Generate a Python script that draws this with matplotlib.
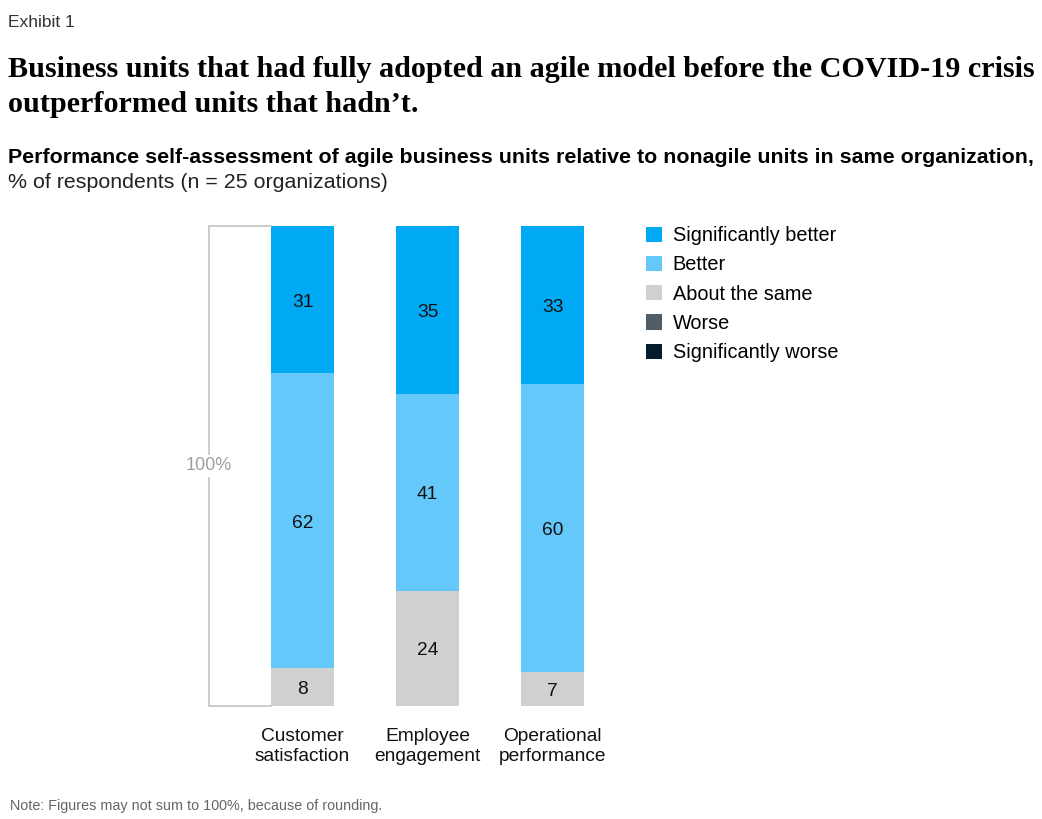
import numpy as np
import matplotlib.pyplot as plt
from matplotlib.patches import Patch

categories = ["Customer\nsatisfaction", "Employee\nengagement", "Operational\nperformance"]
series = ["Significantly better", "Better", "About the same", "Worse", "Significantly worse"]
colors = ["#00a9f4", "#64c8fa", "#d0d0d0", "#4e5d67", "#051c2c"]

# stacked from bottom to top in the picture: about the same, better, significantly better
sig_better = [31, 35, 33]
better = [62, 41, 60]
same = [8, 24, 7]
worse = [0, 0, 0]
sig_worse = [0, 0, 0]

W, H = 1042, 819
fig = plt.figure(figsize=(W / 100, H / 100), dpi=100)

def px(x, y):
    return x / W, 1 - y / H

# axes spanning the bar area, 0..100 maps to y px 706..226
ax_left, ax_right = 150, 620
ax = fig.add_axes([ax_left / W, (H - 706) / H, (ax_right - ax_left) / W, 480 / H])
unit = 125.0
ax.set_xlim((ax_left - 302.5) / unit, (ax_right - 302.5) / unit)
ax.set_ylim(0, 100)
ax.axis("off")

x = np.arange(len(categories))
stack = [sig_worse, worse, same, better, sig_better]
stack_colors = [colors[4], colors[3], colors[2], colors[1], colors[0]]
total = np.sum(np.array(stack, dtype=float), axis=0)
bottom = np.zeros(len(categories))
for vals, col in zip(stack, stack_colors):
    h = np.array(vals) / total * 100
    ax.bar(x, h, width=0.5, bottom=bottom, color=col, linewidth=0)
    for xi, v, b, hh in zip(x, vals, bottom, h):
        if v > 0:
            ax.text(xi, b + hh / 2 - 0.5, str(v), ha="center", va="center",
                    fontsize=13.8, color="#111111", family="Liberation Sans")
    bottom = bottom + h

# 100% bracket
bx0 = (209 - 302.5) / unit
bx1 = -0.25
ax.plot([bx1, bx0, bx0, bx1], [100, 100, 0, 0], color="#c8c8c8", lw=1.3,
        clip_on=False, solid_joinstyle="miter")
ax.text(bx0, 50, "100%", ha="center", va="center", fontsize=13, color="#a39e99",
        family="Liberation Sans", bbox=dict(facecolor="white", edgecolor="none", pad=2))

# category labels
for xi, lab in zip(x, categories):
    ax.text(xi, -4.6, lab, ha="center", va="top", fontsize=13.8, color="#111111",
            family="Liberation Sans", linespacing=1.2)

# legend
handles = [Patch(facecolor=c, edgecolor="none") for c in colors]
fig.legend(handles, series, loc="upper left", bbox_to_anchor=px(646, 226),
           frameon=False, handlelength=0.8, handleheight=0.8,
           handletextpad=0.55, labelspacing=0.52, borderaxespad=0, borderpad=0,
           prop={"family": "Liberation Sans", "size": 14.3})

# texts
fig.text(*px(8, 27), "Exhibit 1", fontsize=12.5, color="#333333", va="baseline",
         family="Liberation Sans")
fig.text(*px(8, 77), "Business units that had fully adopted an agile model before the COVID-19 crisis",
         fontsize=21.7, fontweight="bold", family="Liberation Serif", va="baseline", color="#000000")
fig.text(*px(8, 112), "outperformed units that hadn\u2019t.",
         fontsize=21.7, fontweight="bold", family="Liberation Serif", va="baseline", color="#000000")
fig.text(*px(8, 163), "Performance self-assessment of agile business units relative to nonagile units in same organization,",
         fontsize=15.4, fontweight="bold", family="Liberation Sans", va="baseline", color="#000000")
fig.text(*px(8, 188), "% of respondents (n = 25 organizations)",
         fontsize=15.4, family="Liberation Sans", va="baseline", color="#222222")
fig.text(*px(10, 810), "Note: Figures may not sum to 100%, because of rounding.",
         fontsize=10.4, family="Liberation Sans", va="baseline", color="#666666")

fig.savefig("out.png", dpi=100)
